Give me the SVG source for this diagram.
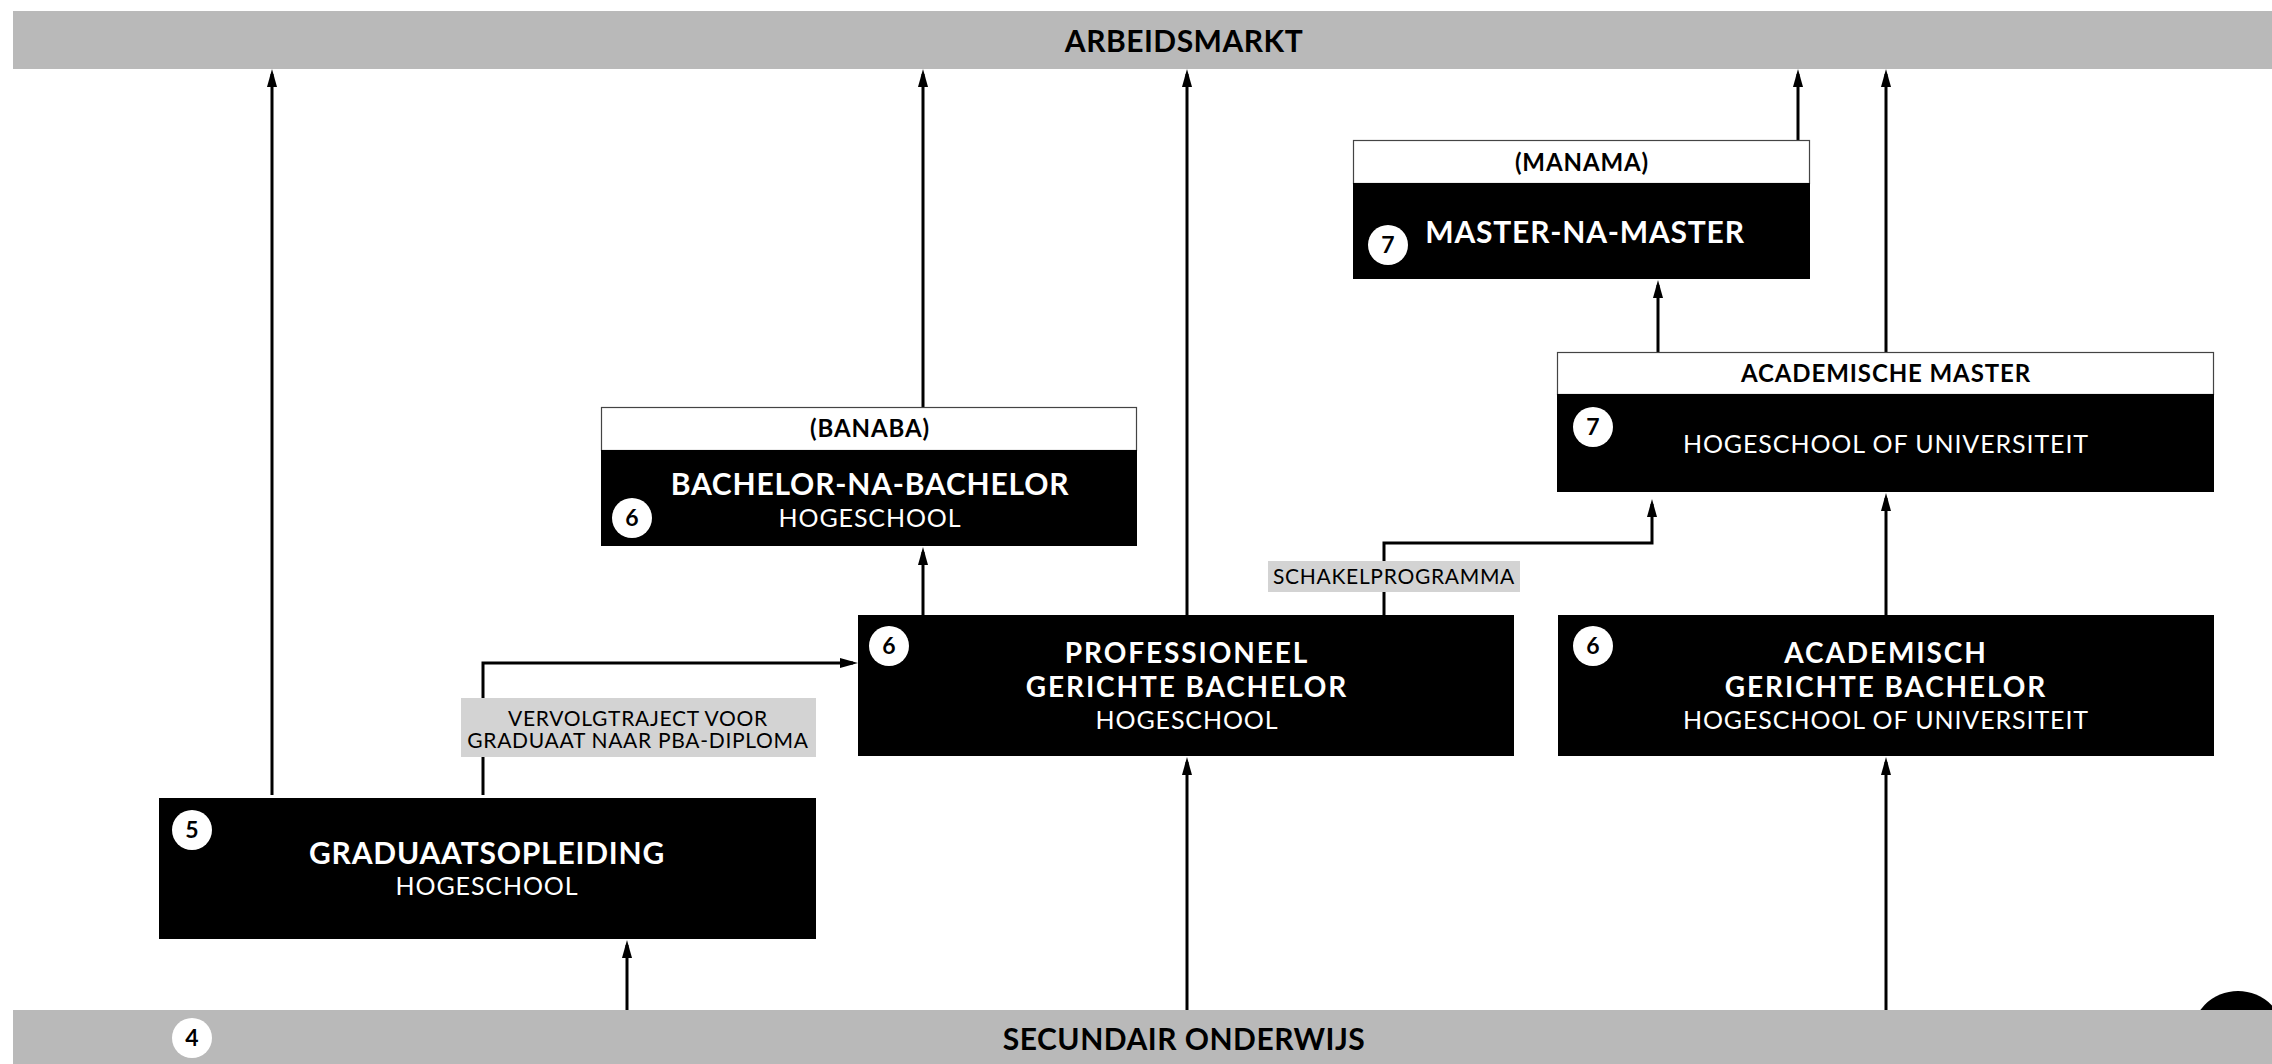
<svg xmlns="http://www.w3.org/2000/svg" width="2272" height="1064" viewBox="0 0 2272 1064">
<defs>
<style>
.bar{fill:#b9b9b9}
.box{fill:#000}
.hdr{fill:#fff;stroke:#444;stroke-width:1.2}
.lbl{fill:#d3d3d3}
.conn{fill:none;stroke:#000;stroke-width:3;marker-end:url(#arr)}
.bw{font-family:Lato,"Open Sans","Liberation Sans",sans-serif;font-weight:700;font-size:30px;letter-spacing:0.8px;fill:#fff;text-anchor:middle}
.bw2{font-family:Lato,"Open Sans","Liberation Sans",sans-serif;font-weight:700;font-size:28px;letter-spacing:1.9px;fill:#fff;text-anchor:middle}
.rw{font-family:Lato,"Open Sans","Liberation Sans",sans-serif;font-weight:400;font-size:25px;letter-spacing:0.9px;fill:#fff;text-anchor:middle}
.bk{font-family:Lato,"Open Sans","Liberation Sans",sans-serif;font-weight:700;font-size:30px;letter-spacing:0.5px;fill:#000;text-anchor:middle}
.hk{font-family:Lato,"Open Sans","Liberation Sans",sans-serif;font-weight:700;font-size:24px;letter-spacing:0.9px;fill:#000;text-anchor:middle}
.lk{font-family:Lato,"Open Sans","Liberation Sans",sans-serif;font-weight:400;font-size:21px;letter-spacing:0.7px;fill:#000;text-anchor:middle}
.num{fill:#fff}
.nt{font-family:Lato,"Open Sans","Liberation Sans",sans-serif;font-weight:700;font-size:23px;fill:#000;text-anchor:middle}
</style>
<marker id="arr" viewBox="0 0 18 10" refX="13" refY="5" markerWidth="18" markerHeight="10" markerUnits="userSpaceOnUse" orient="auto">
<path d="M0,0 L18,5 L0,10 z" fill="#000"/>
</marker>
</defs>
<rect width="2272" height="1064" fill="#fff"/>

<circle cx="2238" cy="1038" r="47" fill="#000"/>

<g id="connectors">
<path class="conn" d="M272,795 V74"/>
<path class="conn" d="M923,407 V74"/>
<path class="conn" d="M1187,615 V74"/>
<path class="conn" d="M1798,140 V74"/>
<path class="conn" d="M1886,352 V74"/>
<path class="conn" d="M1658,352 V285"/>
<path class="conn" d="M923,615 V552"/>
<path class="conn" d="M1384,615 V543 H1652 V504"/>
<path class="conn" d="M483,795 V663 H853"/>
<path class="conn" d="M627,1010 V945"/>
<path class="conn" d="M1187,1010 V762"/>
<path class="conn" d="M1886,1010 V762"/>
<path class="conn" d="M1886,615 V498"/>
</g>

<g id="arbeidsmarkt">
<rect class="bar" x="13" y="11" width="2259" height="58"/>
<text class="bk" x="1184" y="52">ARBEIDSMARKT</text>
</g>

<g id="secundair">
<rect class="bar" x="13" y="1010" width="2259" height="54"/>
<circle class="num" cx="192" cy="1038" r="20"/>
<text class="nt" x="192" y="1046">4</text>
<text class="bk" x="1184" y="1050">SECUNDAIR ONDERWIJS</text>
</g>

<g id="banaba">
<rect class="hdr" x="601.5" y="407.5" width="535" height="43"/>
<rect class="box" x="601" y="450" width="536" height="96"/>
<text class="hk" x="870" y="437">(BANABA)</text>
<text class="bw" x="870" y="495">BACHELOR-NA-BACHELOR</text>
<text class="rw" x="870" y="527">HOGESCHOOL</text>
<circle class="num" cx="632" cy="518" r="20"/>
<text class="nt" x="632" y="526">6</text>
</g>

<g id="manama">
<rect class="hdr" x="1353.5" y="140.5" width="456" height="43"/>
<rect class="box" x="1353" y="183" width="457" height="96"/>
<text class="hk" x="1582" y="171">(MANAMA)</text>
<text class="bw" x="1585" y="243">MASTER-NA-MASTER</text>
<circle class="num" cx="1388" cy="245" r="20"/>
<text class="nt" x="1388" y="253">7</text>
</g>

<g id="academische-master">
<rect class="hdr" x="1557.5" y="352.5" width="656" height="42"/>
<rect class="box" x="1557" y="394" width="657" height="98"/>
<text class="hk" x="1886" y="382">ACADEMISCHE MASTER</text>
<text class="rw" x="1886" y="453">HOGESCHOOL OF UNIVERSITEIT</text>
<circle class="num" cx="1593" cy="427" r="20"/>
<text class="nt" x="1593" y="435">7</text>
</g>

<g id="professionele-bachelor">
<rect class="box" x="858" y="615" width="656" height="141"/>
<text class="bw2" x="1187" y="663">PROFESSIONEEL</text>
<text class="bw2" x="1187" y="697">GERICHTE BACHELOR</text>
<text class="rw" x="1187" y="729">HOGESCHOOL</text>
<circle class="num" cx="889" cy="646" r="20"/>
<text class="nt" x="889" y="654">6</text>
</g>

<g id="academische-bachelor">
<rect class="box" x="1558" y="615" width="656" height="141"/>
<text class="bw2" x="1886" y="663">ACADEMISCH</text>
<text class="bw2" x="1886" y="697">GERICHTE BACHELOR</text>
<text class="rw" x="1886" y="729">HOGESCHOOL OF UNIVERSITEIT</text>
<circle class="num" cx="1593" cy="646" r="20"/>
<text class="nt" x="1593" y="654">6</text>
</g>

<g id="graduaat">
<rect class="box" x="159" y="798" width="657" height="141"/>
<text class="bw" x="487" y="864">GRADUAATSOPLEIDING</text>
<text class="rw" x="487" y="895">HOGESCHOOL</text>
<circle class="num" cx="192" cy="830" r="20"/>
<text class="nt" x="192" y="838">5</text>
</g>

<g id="label-vervolgtraject">
<rect class="lbl" x="461" y="698" width="355" height="59"/>
<text class="lk" x="638" y="726">VERVOLGTRAJECT VOOR</text>
<text class="lk" x="638" y="748">GRADUAAT NAAR PBA-DIPLOMA</text>
</g>

<g id="label-schakelprogramma">
<rect class="lbl" x="1268" y="561" width="252" height="31"/>
<text class="lk" x="1394" y="584">SCHAKELPROGRAMMA</text>
</g>
</svg>
